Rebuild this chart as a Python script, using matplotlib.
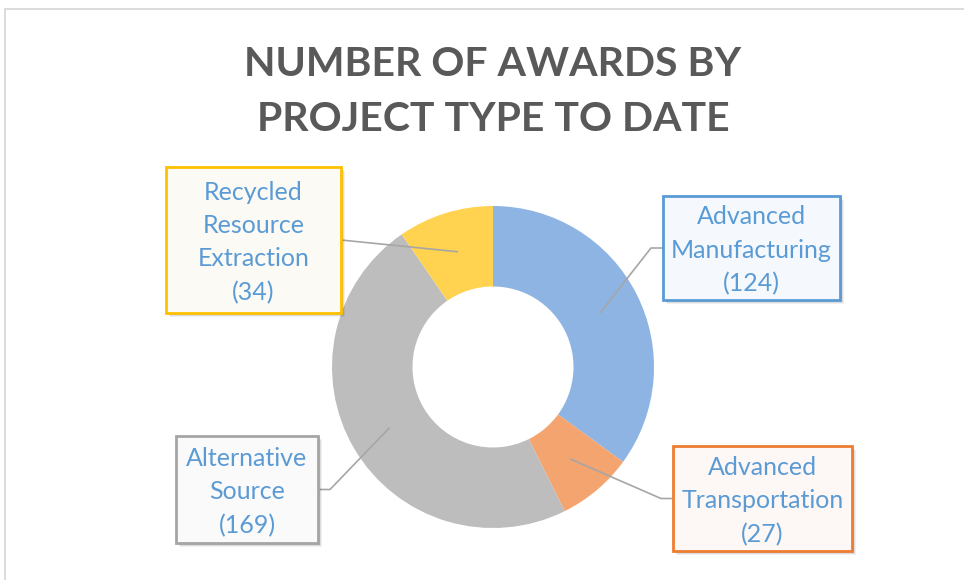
import matplotlib
matplotlib.use("Agg")
import matplotlib.pyplot as plt
from matplotlib.patches import Rectangle
import numpy as np

categories = ["Advanced\nManufacturing", "Advanced\nTransportation", "Alternative\nSource", "Recycled\nResource\nExtraction"]
values = [124, 27, 169, 34]
colors = ["#8EB4E3", "#F4A46E", "#BDBDBD", "#FFD24F"]
edge_colors = ["#5B9BD5", "#ED7D31", "#A5A5A5", "#FFC000"]
face_colors = ["#F5F9FD", "#FDF8F5", "#FAFAFA", "#FBFAF5"]
title = "NUMBER OF AWARDS BY\nPROJECT TYPE TO DATE"

W, H = 964, 580
fig = plt.figure(figsize=(W / 100, H / 100), dpi=100)
fig.patch.set_facecolor("white")

# donut geometry in pixels
cx, cy, R = 493, 367, 161
pie_ax = fig.add_axes([(cx - R) / W, (H - cy - R) / H, 2 * R / W, 2 * R / H])
wedges, _ = pie_ax.pie(values, colors=colors, startangle=90, counterclock=False,
                       radius=1.0, wedgeprops=dict(width=0.5, edgecolor="none"))
pie_ax.set_xlim(-1, 1)
pie_ax.set_ylim(-1, 1)
pie_ax.set_aspect("equal")
pie_ax.axis("off")

# overlay in pixel coordinates (y down)
ov = fig.add_axes([0, 0, 1, 1], zorder=5)
ov.set_xlim(0, W)
ov.set_ylim(H, 0)
ov.axis("off")
ov.patch.set_alpha(0)

# outer frame
ov.plot([4.5, 4.5, W + 5], [H + 5, 8.5, 8.5], color="#D9D9D9", lw=1.3, solid_joinstyle="miter")

ov.text(493, 92, title, ha="center", va="center", fontsize=29.5, fontweight="bold",
        color="#595959", family="Lato", linespacing=1.58)

# label boxes: (x0, y0, x1, y1) and line attach side
boxes = [
    (663, 196, 840, 300, "left"),
    (673, 446, 852, 551, "left"),
    (176, 436, 318, 543, "right"),
    (166, 167, 341, 313, "right"),
]

for w, cat, val, ec, fc, (x0, y0, x1, y1, side) in zip(wedges, categories, values, edge_colors, face_colors, boxes):
    mid = np.deg2rad((w.theta1 + w.theta2) / 2)
    ax_pt = (cx + 0.75 * R * np.cos(mid), cy - 0.75 * R * np.sin(mid))
    ymid = (y0 + y1) / 2
    if side == "left":
        bx = x0
        ex = x0 - 12
    else:
        bx = x1
        ex = x1 + 12
    if cat.startswith("Recycled"):
        xs = [bx, ax_pt[0]]
        ys = [ymid, ax_pt[1]]
    else:
        xs = [bx, ex, ax_pt[0]]
        ys = [ymid, ymid, ax_pt[1]]
    ov.plot(xs, ys, color="#A6A6A6", lw=1.2, zorder=3)
    # shadow
    for k, a in [(4, 0.06), (3, 0.08), (2, 0.10)]:
        ov.add_patch(Rectangle((x0 + k, y0 + k), x1 - x0, y1 - y0, facecolor="#000000",
                               alpha=a, edgecolor="none", zorder=3.5))
    ov.add_patch(Rectangle((x0, y0), x1 - x0, y1 - y0, facecolor=fc, edgecolor=ec,
                           lw=2.0, zorder=4))
    ov.text((x0 + x1) / 2, ymid + 2.5, f"{cat}\n({val})", ha="center", va="center",
            fontsize=18, color="#5B9BD5", family="Lato", linespacing=1.55, zorder=5)

fig.savefig("out.png", dpi=100, facecolor="white")
